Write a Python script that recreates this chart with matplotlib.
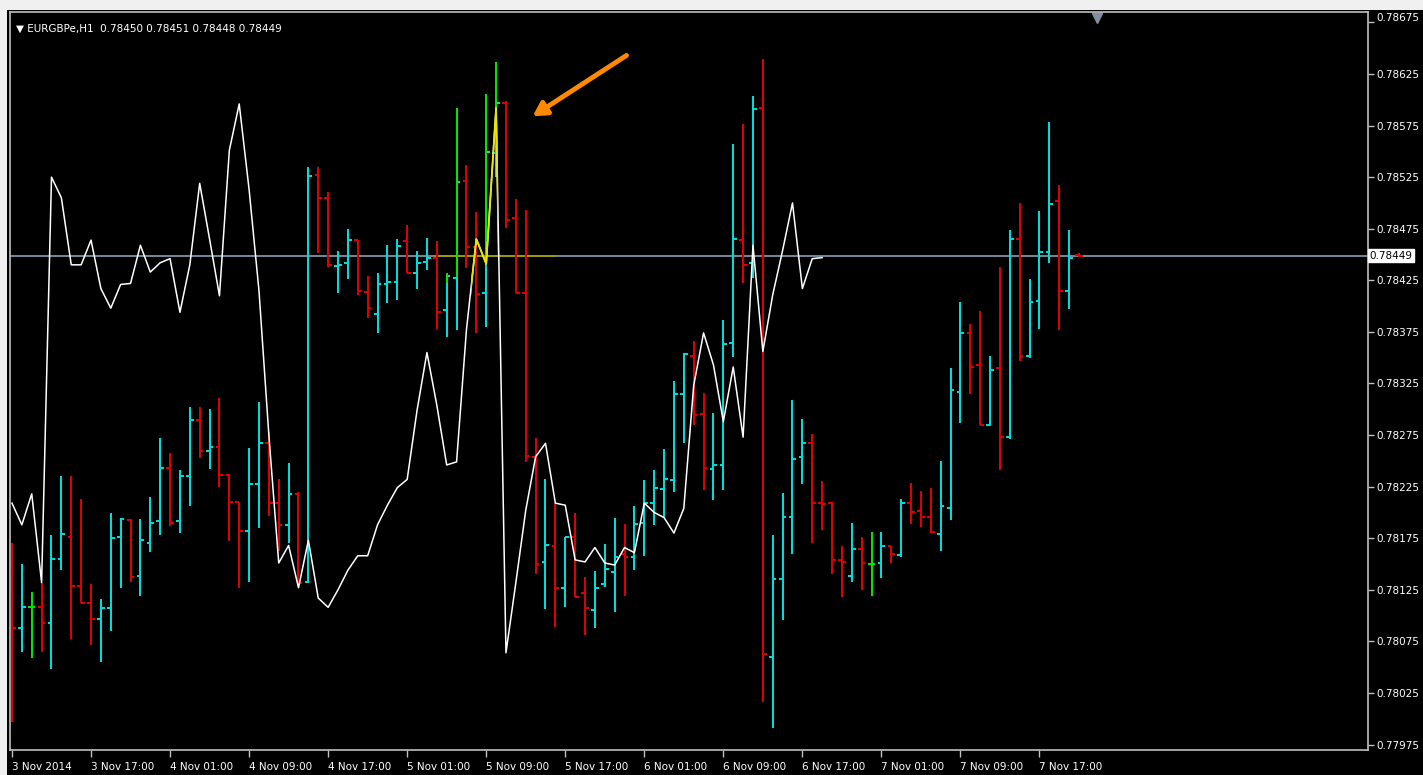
import numpy as np
import matplotlib.pyplot as plt
import matplotlib.transforms as mtransforms
from matplotlib.patches import Rectangle

# header text
symbol = "EURGBPe,H1"
last_ohlc = ["0.78450", "0.78451", "0.78448", "0.78449"]
current_price = 0.78449

# hourly bars, starting 3 Nov 2014 09:00
opens = [0.78150, 0.78088, 0.78108, 0.78108, 0.78093, 0.78155, 0.78176, 0.78129, 0.78112, 0.78097,
         0.78107, 0.78176, 0.78193, 0.78138, 0.78170, 0.78192, 0.78243, 0.78192, 0.78235, 0.78290,
         0.78260, 0.78263, 0.78236, 0.78210, 0.78182, 0.78228, 0.78267, 0.78209, 0.78188, 0.78218,
         0.78133, 0.78527, 0.78505, 0.78439, 0.78442, 0.78464, 0.78414, 0.78392, 0.78421, 0.78423,
         0.78463, 0.78432, 0.78443, 0.78447, 0.78396, 0.78427, 0.78521, 0.78457, 0.78413, 0.78548,
         0.78597, 0.78485, 0.78413, 0.78254, 0.78152, 0.78167, 0.78127, 0.78176, 0.78122, 0.78105,
         0.78131, 0.78142, 0.78160, 0.78157, 0.78190, 0.78209, 0.78223, 0.78231, 0.78315, 0.78352,
         0.78295, 0.78242, 0.78246, 0.78364, 0.78464, 0.78442, 0.78592, 0.78060, 0.78135, 0.78196,
         0.78254, 0.78267, 0.78209, 0.78209, 0.78154, 0.78138, 0.78165, 0.78150, 0.78151, 0.78167,
         0.78159, 0.78209, 0.78201, 0.78196, 0.78179, 0.78204, 0.78317, 0.78374, 0.78343, 0.78285,
         0.78340, 0.78273, 0.78465, 0.78352, 0.78405, 0.78452, 0.78502, 0.78415, 0.78450]
highs = [0.78170, 0.78150, 0.78123, 0.78132, 0.78178, 0.78235, 0.78235, 0.78213, 0.78131, 0.78116,
         0.78199, 0.78195, 0.78194, 0.78194, 0.78215, 0.78272, 0.78258, 0.78241, 0.78302, 0.78302,
         0.78300, 0.78311, 0.78237, 0.78210, 0.78262, 0.78307, 0.78278, 0.78232, 0.78248, 0.78220,
         0.78535, 0.78535, 0.78511, 0.78453, 0.78475, 0.78464, 0.78429, 0.78432, 0.78459, 0.78465,
         0.78479, 0.78453, 0.78466, 0.78463, 0.78432, 0.78592, 0.78537, 0.78491, 0.78606, 0.78637,
         0.78599, 0.78504, 0.78493, 0.78272, 0.78232, 0.78209, 0.78176, 0.78199, 0.78137, 0.78143,
         0.78169, 0.78195, 0.78189, 0.78206, 0.78231, 0.78241, 0.78261, 0.78327, 0.78355, 0.78366,
         0.78316, 0.78296, 0.78387, 0.78557, 0.78577, 0.78604, 0.78640, 0.78178, 0.78219, 0.78309,
         0.78291, 0.78276, 0.78230, 0.78210, 0.78167, 0.78190, 0.78176, 0.78181, 0.78181, 0.78167,
         0.78213, 0.78229, 0.78221, 0.78224, 0.78250, 0.78340, 0.78404, 0.78383, 0.78395, 0.78352,
         0.78438, 0.78474, 0.78500, 0.78426, 0.78492, 0.78578, 0.78517, 0.78474, 0.78451]
lows = [0.77997, 0.78065, 0.78059, 0.78065, 0.78048, 0.78144, 0.78077, 0.78112, 0.78071, 0.78055,
        0.78085, 0.78127, 0.78133, 0.78119, 0.78162, 0.78178, 0.78187, 0.78180, 0.78206, 0.78253,
        0.78242, 0.78225, 0.78172, 0.78127, 0.78133, 0.78185, 0.78197, 0.78163, 0.78170, 0.78131,
        0.78132, 0.78451, 0.78438, 0.78413, 0.78426, 0.78411, 0.78388, 0.78374, 0.78403, 0.78406,
        0.78432, 0.78417, 0.78435, 0.78378, 0.78370, 0.78377, 0.78437, 0.78374, 0.78380, 0.78525,
        0.78476, 0.78413, 0.78249, 0.78140, 0.78106, 0.78089, 0.78108, 0.78118, 0.78081, 0.78088,
        0.78128, 0.78103, 0.78119, 0.78144, 0.78158, 0.78188, 0.78195, 0.78220, 0.78267, 0.78285,
        0.78222, 0.78212, 0.78222, 0.78351, 0.78422, 0.78427, 0.78016, 0.77991, 0.78096, 0.78160,
        0.78228, 0.78170, 0.78183, 0.78140, 0.78118, 0.78133, 0.78125, 0.78119, 0.78136, 0.78151,
        0.78157, 0.78189, 0.78186, 0.78180, 0.78163, 0.78193, 0.78287, 0.78315, 0.78285, 0.78284,
        0.78241, 0.78271, 0.78347, 0.78350, 0.78378, 0.78442, 0.78377, 0.78397, 0.78448]
closes = [0.78088, 0.78108, 0.78108, 0.78093, 0.78155, 0.78179, 0.78129, 0.78112, 0.78097, 0.78107,
          0.78175, 0.78194, 0.78137, 0.78173, 0.78190, 0.78243, 0.78190, 0.78235, 0.78290, 0.78260,
          0.78263, 0.78236, 0.78210, 0.78182, 0.78228, 0.78267, 0.78209, 0.78188, 0.78218, 0.78132,
          0.78526, 0.78505, 0.78440, 0.78440, 0.78464, 0.78415, 0.78398, 0.78421, 0.78423, 0.78458,
          0.78432, 0.78442, 0.78447, 0.78394, 0.78429, 0.78520, 0.78457, 0.78412, 0.78549, 0.78597,
          0.78483, 0.78413, 0.78255, 0.78150, 0.78168, 0.78127, 0.78176, 0.78118, 0.78107, 0.78127,
          0.78145, 0.78157, 0.78157, 0.78189, 0.78209, 0.78224, 0.78232, 0.78315, 0.78354, 0.78294,
          0.78243, 0.78246, 0.78363, 0.78465, 0.78440, 0.78591, 0.78063, 0.78135, 0.78196, 0.78252,
          0.78267, 0.78209, 0.78208, 0.78154, 0.78152, 0.78165, 0.78151, 0.78150, 0.78167, 0.78160,
          0.78209, 0.78200, 0.78196, 0.78181, 0.78206, 0.78319, 0.78374, 0.78341, 0.78285, 0.78338,
          0.78273, 0.78465, 0.78352, 0.78404, 0.78452, 0.78499, 0.78415, 0.78447, 0.78449]

# overlay line (white), one point per bar
line_values = [0.78209, 0.78188, 0.78218, 0.78132, 0.78525, 0.78505, 0.78440, 0.78440, 0.78464, 0.78417,
               0.78398, 0.78421, 0.78422, 0.78459, 0.78433, 0.78442, 0.78446, 0.78394, 0.78440, 0.78519,
               0.78465, 0.78410, 0.78551, 0.78596, 0.78513, 0.78415, 0.78275, 0.78151, 0.78168, 0.78127,
               0.78173, 0.78117, 0.78108, 0.78125, 0.78144, 0.78158, 0.78158, 0.78188, 0.78207, 0.78224,
               0.78232, 0.78299, 0.78355, 0.78304, 0.78246, 0.78249, 0.78377, 0.78465, 0.78441, 0.78592,
               0.78064, 0.78132, 0.78202, 0.78254, 0.78267, 0.78209, 0.78207, 0.78154, 0.78152, 0.78166,
               0.78151, 0.78149, 0.78166, 0.78161, 0.78209, 0.78200, 0.78195, 0.78180, 0.78204, 0.78323,
               0.78374, 0.78343, 0.78288, 0.78341, 0.78273, 0.78459, 0.78356, 0.78411, 0.78454, 0.78500,
               0.78417, 0.78446, 0.78447]

# parts highlighted in green / yellow
green_bars = [44, 45, 48, 49]
green_top = [0.78432, 0.78592, 0.78606, 0.78637]
green_bottom = [0.78422, 0.78428, 0.78449, 0.78556]
yellow_line_span = (46.5, 49.15)
yellow_level_span = (42.6, 55.1)

time_labels = ["3 Nov 2014", "3 Nov 17:00", "4 Nov 01:00", "4 Nov 09:00", "4 Nov 17:00",
               "5 Nov 01:00", "5 Nov 09:00", "5 Nov 17:00", "6 Nov 01:00", "6 Nov 09:00",
               "6 Nov 17:00", "7 Nov 01:00", "7 Nov 09:00", "7 Nov 17:00"]
bars_per_label = 8
price_ticks = [0.77975, 0.78025, 0.78075, 0.78125, 0.78175, 0.78225, 0.78275, 0.78325,
               0.78375, 0.78425, 0.78475, 0.78525, 0.78575, 0.78625, 0.78675]

CYAN = "#00DCDC"
RED = "#DC0000"
GREEN = "#00E600"
FRAME = "#C0C0C0"

plt.rcParams['font.family'] = ['DejaVu Sans']

fig = plt.figure(figsize=(14.23, 7.75), dpi=100, facecolor="black")
ax = fig.add_axes([10 / 1423, 25 / 775, 1358 / 1423, 738 / 775])
ax.set_facecolor("black")

# window chrome strips
fig.patches.append(Rectangle((0, 1 - 10 / 775), 1, 10 / 775, transform=fig.transFigure,
                             facecolor="#F0F0F0", edgecolor="none", zorder=-1))
fig.patches.append(Rectangle((0, 0), 7 / 1423, 1, transform=fig.transFigure,
                             facecolor="#F0F0F0", edgecolor="none", zorder=-1))

o = np.array(opens)
h = np.array(highs)
l = np.array(lows)
c = np.array(closes)
x = np.arange(len(o))
cols = np.where(c > o, CYAN, np.where(c < o, RED, GREEN))

ax.axhline(current_price, color="#778899", lw=1.4, zorder=1)
ax.hlines(current_price, *yellow_level_span, color="#9A9A00", lw=1.4, zorder=1.5)

lw = 1.45
ax.vlines(x, l, h, colors=cols, lw=lw, zorder=2, capstyle="butt")
ax.hlines(o, x - 0.38, x, colors=cols, lw=lw, zorder=2)
ax.hlines(c, x, x + 0.38, colors=cols, lw=lw, zorder=2)
ax.vlines(green_bars, green_bottom, green_top, colors=GREEN, lw=lw, zorder=2.1)

lx = np.arange(len(line_values))
ax.plot(lx, line_values, color="white", lw=1.1, zorder=3)
yl, = ax.plot(lx, line_values, color="#E6E600", lw=1.3, zorder=3.1)
clip = Rectangle((yellow_line_span[0], 0.77), yellow_line_span[1] - yellow_line_span[0], 0.02,
                 transform=ax.transData, visible=False)
ax.add_patch(clip)
yl.set_clip_path(clip)

ax.set_xlim(-0.2, 137.25)
ax.set_ylim(0.779697, 0.786851)

ax.set_xticks(np.arange(len(time_labels)) * bars_per_label)
ax.set_xticklabels(time_labels, ha="left", color="white", fontsize=7.5)
ax.set_yticks(price_ticks)
ax.set_yticklabels([f"{p:.5f}" for p in price_ticks], color="white", fontsize=7.5)
ax.yaxis.tick_right()
ax.tick_params(axis="y", direction="out", length=4, width=1, color=FRAME, pad=2)
ax.tick_params(axis="x", direction="out", length=5, width=1, color=FRAME, pad=4)
for s in ax.spines.values():
    s.set_color(FRAME)
    s.set_linewidth(1.2)

# top price label sits a little higher, as in the terminal
top_lbl = ax.get_yticklabels()[-1]
top_lbl.set_transform(top_lbl.get_transform() +
                      mtransforms.ScaledTranslation(0, 4 / 72, fig.dpi_scale_trans))

# current price tag
ax.text(1.0012, current_price, f"{current_price:.5f}", transform=ax.get_yaxis_transform(),
        ha="left", va="center", fontsize=7.5, color="black",
        bbox=dict(boxstyle="square,pad=0.15", facecolor="white", edgecolor="white"))

ax.text(0.0045, 0.977, "\u25bc " + symbol + "  " + " ".join(last_ohlc), transform=ax.transAxes,
        ha="left", va="center", fontsize=7.5, color="white")

# chart shift marker
ax.plot([0.8005], [0.992], marker="v", markersize=7, color="#8090A0", transform=ax.transAxes,
        clip_on=False)

ax.annotate("", xy=(52.7, 0.78584), xytext=(62.2, 0.78643),
            arrowprops=dict(arrowstyle="-|>,head_length=0.8,head_width=0.45", color="#FF8A00",
                            lw=3.5, shrinkA=0, shrinkB=0))

fig.savefig("out.png", dpi=100, facecolor="black")
